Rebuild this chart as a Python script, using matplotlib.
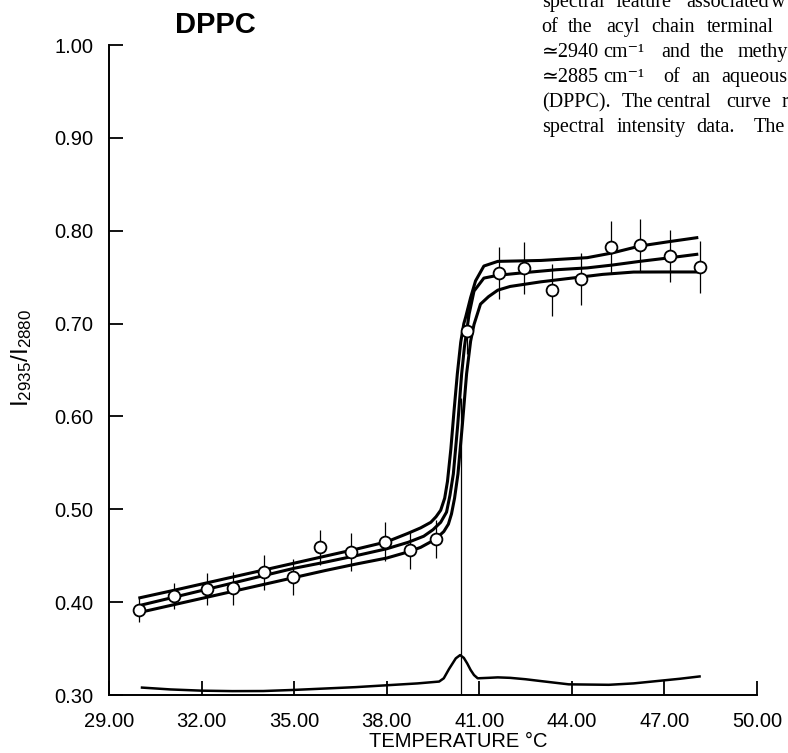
import matplotlib
matplotlib.use("Agg")
import matplotlib.pyplot as plt

plt.rcParams['font.family'] = ['Liberation Sans', 'DejaVu Sans']

# measured intensity ratio (open circles) with error bars
temp = [29.97, 31.10, 32.17, 33.03, 34.02, 34.97, 35.83, 36.85, 37.94, 38.75, 39.59,
        40.59, 41.63, 42.44, 43.35, 44.30, 45.26, 46.20, 47.17, 48.14]
ratio = [0.392, 0.407, 0.414, 0.415, 0.432, 0.427, 0.459, 0.454, 0.465, 0.456, 0.468,
         0.692, 0.755, 0.760, 0.736, 0.748, 0.783, 0.785, 0.773, 0.761]
err = [0.013, 0.014, 0.017, 0.018, 0.019, 0.019, 0.019, 0.020, 0.021, 0.020, 0.020,
       0.025, 0.028, 0.028, 0.028, 0.028, 0.028, 0.028, 0.028, 0.028]

# central fitted curve
mid_t = [30.0, 31.0, 32.0, 33.0, 34.0, 35.0, 36.0, 37.0, 38.0, 38.7, 39.2, 39.5, 39.75,
         39.94, 40.05, 40.16, 40.3, 40.43, 40.52, 40.59, 40.67, 40.83, 41.15, 41.6,
         42.5, 43.5, 44.5, 45.3, 46.2, 47.2, 48.05]
mid_v = [0.3965, 0.4045, 0.4125, 0.4205, 0.4285, 0.4365, 0.443, 0.450, 0.4575, 0.4645,
         0.471, 0.478, 0.486, 0.497, 0.515, 0.538, 0.590, 0.646, 0.675, 0.691, 0.710,
         0.735, 0.749, 0.752, 0.755, 0.758, 0.760, 0.763, 0.767, 0.771, 0.7746]

# upper confidence curve
up_t = [30.0, 31.0, 32.0, 33.0, 34.0, 35.0, 36.0, 37.0, 38.0, 38.68, 39.1, 39.43, 39.6,
        39.75, 39.88, 39.97, 40.08, 40.18, 40.29, 40.4, 40.5, 40.56, 40.72, 40.88,
        41.15, 41.6, 43.0, 44.5, 45.3, 46.2, 47.1, 48.05]
up_v = [0.4047, 0.412, 0.4195, 0.427, 0.4345, 0.442, 0.4495, 0.457, 0.465, 0.474, 0.480,
        0.486, 0.492, 0.499, 0.512, 0.530, 0.565, 0.605, 0.646, 0.680, 0.700, 0.707,
        0.728, 0.746, 0.762, 0.767, 0.768, 0.771, 0.776, 0.7835, 0.788, 0.7925]

# lower confidence curve
lo_t = [30.0, 31.0, 32.0, 33.0, 34.0, 35.0, 36.0, 37.0, 38.0, 38.68, 39.1, 39.43, 39.65,
        39.85, 40.0, 40.1, 40.2, 40.31, 40.45, 40.59, 40.72, 40.83, 41.04, 41.3, 41.6,
        42.0, 43.0, 44.0, 45.0, 46.0, 47.0, 48.05]
lo_v = [0.389, 0.3965, 0.404, 0.4115, 0.419, 0.4265, 0.434, 0.441, 0.4475, 0.454, 0.459,
        0.465, 0.470, 0.476, 0.484, 0.495, 0.512, 0.538, 0.590, 0.646, 0.681, 0.699,
        0.721, 0.729, 0.736, 0.740, 0.745, 0.749, 0.753, 0.7555, 0.7556, 0.7556]

# DSC-like trace along the bottom
dsc_t = [30.07, 31.0, 32.0, 33.0, 34.0, 35.0, 36.0, 37.0, 38.0, 39.0, 39.7, 39.85, 40.02,
         40.24, 40.38, 40.5, 40.61, 40.72, 40.83, 40.95, 41.3, 41.6, 42.0, 42.5, 43.0,
         43.9, 45.2, 46.0, 46.9, 47.5, 48.14]
dsc_v = [0.308, 0.306, 0.3047, 0.3042, 0.3043, 0.3055, 0.307, 0.3085, 0.3105, 0.3125,
         0.3145, 0.318, 0.328, 0.3395, 0.343, 0.340, 0.334, 0.327, 0.3215, 0.318, 0.3185,
         0.319, 0.3185, 0.317, 0.315, 0.3115, 0.311, 0.3125, 0.3155, 0.3175, 0.320]

tm = 40.4  # transition temperature marker

xticks = [29, 32, 35, 38, 41, 44, 47, 50]
xlabels = ['29.00', '32.00', '35.00', '38.00', '41.00', '44.00', '47.00', '50.00']
yticks = [0.30, 0.40, 0.50, 0.60, 0.70, 0.80, 0.90, 1.00]
ylabels = ['0.30', '0.40', '0.50', '0.60', '0.70', '0.80', '0.90', '1.00']

fig = plt.figure(figsize=(7.88, 7.53), dpi=100)
ax = fig.add_axes([0.1383, 0.0770, 0.8223, 0.8632])

ax.errorbar(temp, ratio, yerr=err, fmt='none', ecolor='black', elinewidth=0.9, zorder=1)
ax.plot(up_t, up_v, color='black', lw=2.2, zorder=2)
ax.plot(mid_t, mid_v, color='black', lw=2.2, zorder=2)
ax.plot(lo_t, lo_v, color='black', lw=2.2, zorder=2)
ax.plot(temp, ratio, 'o', ms=8.5, mfc='white', mec='black', mew=1.3, zorder=3)
ax.plot(dsc_t, dsc_v, color='black', lw=1.8, zorder=2)
ax.vlines(tm, 0.30, 0.62, color='black', lw=0.9, zorder=1)

ax.set_xlim(29, 50)
ax.set_ylim(0.30, 1.00)
ax.set_xticks(xticks)
ax.set_xticklabels(xlabels)
ax.set_yticks(yticks)
ax.set_yticklabels(ylabels)
ax.tick_params(direction='in', length=10, width=1.3, labelsize=14.5)
ax.tick_params(axis='x', pad=12)
ax.tick_params(axis='y', pad=11)
for s in ['top', 'right']:
    ax.spines[s].set_visible(False)
for s in ['left', 'bottom']:
    ax.spines[s].set_linewidth(1.4)

fig.text(458 / 788, 1 - 732 / 753, 'TEMPERATURE °C', ha='center', va='top', fontsize=14.5)
fig.text(22 / 788, 1 - 358 / 753, r'$\mathregular{I_{2935}/I_{2880}}$', rotation=90,
         ha='center', va='center', fontsize=17.5)
fig.text(215 / 788, 1 - 25 / 753, 'DPPC', ha='center', va='center', fontsize=21,
         fontweight='bold')

# caption fragment, top right (justified words placed one by one)
caption = [
    (7, [('spectral', 541.7), ('feature', 615), ('associated', 686.7), ('w', 771)]),
    (31.7, [('of', 541.7), ('the', 568.3), ('acyl', 606), ('chain', 651.7), ('terminal', 706.7)]),
    (56.7, [('≃2940', 541.7), ('cm⁻¹', 603), ('and', 661), ('the', 700), ('methy', 737.3)]),
    (81.7, [('≃2885', 541.7), ('cm⁻¹', 603), ('of', 663.3), ('an', 691.7), ('aqueous', 721.7)]),
    (107.3, [('(DPPC).', 541.7), ('The', 621.7), ('central', 656.7), ('curve', 726.7), ('r', 781.7)]),
    (131.7, [('spectral', 541.7), ('intensity', 616.7), ('data.', 696.7), ('The', 753.3)]),
]
for base, words in caption:
    for w, x in words:
        fig.text(x / 788, 1 - base / 753, w, ha='left', va='baseline', fontsize=14.5,
                 family=['Liberation Serif', 'DejaVu Serif'])

fig.savefig('out.png', dpi=100)
